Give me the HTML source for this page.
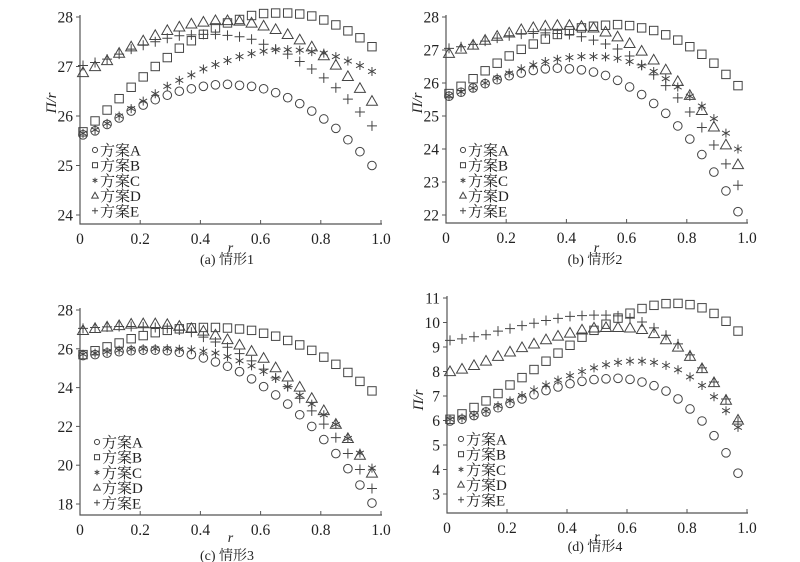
<!DOCTYPE html>
<html><head><meta charset="utf-8">
<style>
html,body{margin:0;padding:0;background:#fff;}
svg{display:block;font-family:"Liberation Serif","Noto Serif CJK SC",serif;}
</style></head>
<body>
<svg id="fig" width="800" height="562" viewBox="0 0 800 562" xmlns="http://www.w3.org/2000/svg"></svg>
<script>
const rValues = [0.01,0.05,0.09,0.13,0.17,0.21,0.25,0.29,0.33,0.37,0.41,0.45,0.49,0.53,0.57,0.61,0.65,0.69,0.73,0.77,0.81,0.85,0.89,0.93,0.97];
const seriesNames = ["方案A","方案B","方案C","方案D","方案E"];
const xTicks = [0,0.2,0.4,0.6,0.8,1.0];
const xTickLabels = ["0","0.2","0.4","0.6","0.8","1.0"];
const aA=[25.62,25.7,25.83,25.96,26.1,26.22,26.33,26.42,26.5,26.55,26.6,26.63,26.64,26.62,26.6,26.55,26.47,26.37,26.25,26.1,25.94,25.75,25.52,25.28,25.0];
const aB=[25.68,25.9,26.12,26.35,26.58,26.79,27.0,27.18,27.37,27.52,27.65,27.78,27.88,27.95,28.03,28.07,28.08,28.08,28.06,28.02,27.94,27.84,27.72,27.58,27.4];
const aC=[25.65,25.72,25.85,26.0,26.15,26.3,26.45,26.6,26.72,26.83,26.95,27.04,27.12,27.2,27.26,27.31,27.34,27.34,27.33,27.3,27.27,27.2,27.11,27.02,26.9];
const aD=[26.88,27.0,27.12,27.27,27.4,27.52,27.63,27.73,27.8,27.86,27.9,27.93,27.93,27.92,27.88,27.82,27.75,27.65,27.54,27.4,27.22,27.03,26.8,26.56,26.3];
const aE=[27.02,27.08,27.15,27.25,27.35,27.43,27.5,27.57,27.62,27.64,27.65,27.65,27.63,27.6,27.55,27.45,27.35,27.25,27.1,26.95,26.77,26.57,26.34,26.08,25.8];
const bA=[25.6,25.72,25.85,25.98,26.1,26.22,26.3,26.38,26.43,26.45,26.43,26.4,26.33,26.23,26.08,25.88,25.65,25.38,25.08,24.7,24.3,23.83,23.3,22.73,22.1];
const bB=[25.68,25.9,26.13,26.37,26.6,26.82,27.02,27.18,27.33,27.47,27.58,27.67,27.72,27.75,27.77,27.74,27.67,27.59,27.46,27.3,27.1,26.87,26.6,26.26,25.92];
const bC=[25.62,25.73,25.85,26.0,26.15,26.3,26.43,26.55,26.65,26.72,26.77,26.8,26.8,26.79,26.75,26.65,26.52,26.35,26.13,25.88,25.6,25.3,24.92,24.48,24.0];
const bD=[26.9,27.03,27.15,27.3,27.42,27.52,27.62,27.68,27.73,27.75,27.75,27.72,27.67,27.55,27.4,27.2,26.97,26.7,26.4,26.05,25.63,25.17,24.67,24.13,23.53];
const bE=[27.05,27.1,27.17,27.27,27.36,27.43,27.48,27.5,27.52,27.5,27.47,27.4,27.3,27.18,27.03,26.82,26.55,26.25,25.92,25.55,25.12,24.65,24.12,23.55,22.9];
const cA=[25.65,25.7,25.78,25.85,25.9,25.93,25.93,25.9,25.82,25.7,25.53,25.32,25.1,24.82,24.45,24.05,23.62,23.15,22.6,22.0,21.32,20.6,19.82,18.98,18.05];
const cB=[25.7,25.9,26.1,26.3,26.52,26.68,26.83,26.95,27.03,27.08,27.1,27.1,27.07,27.02,26.95,26.8,26.65,26.43,26.2,25.92,25.57,25.2,24.78,24.32,23.83];
const cC=[25.72,25.78,25.85,25.93,25.98,26.0,26.0,26.0,25.98,25.95,25.88,25.78,25.6,25.38,25.12,24.83,24.48,24.05,23.6,23.15,22.6,22.1,21.38,20.62,19.85];
const cD=[26.95,27.05,27.13,27.2,27.28,27.3,27.3,27.26,27.17,27.05,26.92,26.72,26.48,26.2,25.88,25.52,25.03,24.55,24.03,23.45,22.82,22.12,21.38,20.52,19.6];
const cE=[27.05,27.1,27.13,27.15,27.15,27.13,27.1,27.05,26.97,26.85,26.6,26.35,26.08,25.75,25.38,24.95,24.5,24.05,23.45,22.8,22.12,21.42,20.6,19.78,18.8];
const dA=[5.98,6.05,6.2,6.35,6.52,6.7,6.88,7.05,7.22,7.37,7.5,7.6,7.67,7.7,7.72,7.68,7.57,7.42,7.2,6.88,6.47,5.98,5.38,4.68,3.85];
const dB=[6.05,6.27,6.53,6.8,7.1,7.45,7.75,8.08,8.42,8.75,9.07,9.4,9.68,9.93,10.18,10.38,10.57,10.7,10.77,10.78,10.73,10.6,10.37,10.05,9.65];
const dC=[6.05,6.1,6.22,6.38,6.6,6.8,7.02,7.25,7.45,7.65,7.83,8.0,8.15,8.28,8.37,8.42,8.42,8.37,8.25,8.07,7.78,7.43,6.97,6.4,5.72];
const dD=[8.0,8.1,8.25,8.43,8.62,8.8,8.98,9.13,9.3,9.45,9.57,9.7,9.78,9.8,9.8,9.78,9.72,9.55,9.3,9.0,8.62,8.12,7.55,6.83,6.02];
const dE=[9.27,9.33,9.42,9.5,9.65,9.75,9.87,9.97,10.08,10.17,10.25,10.28,10.3,10.3,10.27,10.18,10.02,9.78,9.48,9.13,8.68,8.15,7.57,6.88,5.95];
const yTicksA=[24,25,26,27,28];
const yTicksB=[22,23,24,25,26,27,28];
const yTicksC=[18,20,22,24,26,28];
const yTicksD=[3,4,5,6,7,8,9,10,11];

const NS="http://www.w3.org/2000/svg";
const svg=document.getElementById('fig');
const COL="#444";
function mk(tag,attrs,parent){const e=document.createElementNS(NS,tag);for(const k in attrs)e.setAttribute(k,attrs[k]);(parent||svg).appendChild(e);return e;}

function marker(g,type,cx,cy,s){
  let e;
  if(type===0){e=mk('circle',{cx:cx,cy:cy,r:4.3*s,fill:'none',stroke:COL,'stroke-width':1},g);}
  else if(type===1){const h=4.2*s;e=mk('rect',{x:cx-h,y:cy-h,width:2*h,height:2*h,fill:'none',stroke:COL,'stroke-width':1},g);}
  else if(type===2){const h=4.5*s;e=mk('path',{d:`M${cx} ${cy-h}V${cy+h}M${cx-h*0.87} ${cy-h*0.5}L${cx+h*0.87} ${cy+h*0.5}M${cx-h*0.87} ${cy+h*0.5}L${cx+h*0.87} ${cy-h*0.5}`,stroke:COL,'stroke-width':1,fill:'none'},g);}
  else if(type===3){const h=5.5*s;e=mk('path',{d:`M${cx} ${cy-h}L${cx+h} ${cy+h*0.75}L${cx-h} ${cy+h*0.75}Z`,fill:'none',stroke:COL,'stroke-width':1},g);}
  else {const h=5*s;e=mk('path',{d:`M${cx} ${cy-h}V${cy+h}M${cx-h} ${cy}H${cx+h}`,stroke:COL,'stroke-width':1,fill:'none'},g);}
  return e;
}

function panel(cfg){
  const g=mk('g',{});
  
  
  const xs=v=>cfg.x0+(cfg.x1-cfg.x0)*v;
  const ys=v=>cfg.yTop+(cfg.yBot-cfg.yTop)*(cfg.ymax-v)/(cfg.ymax-cfg.ymin);
  const ax=mk('path',{d:`M${cfg.x0} ${cfg.yTop-2}V${cfg.axisY}H${cfg.x1+1}`,stroke:'#555','stroke-width':1.2,fill:'none'},g);
  
  
  cfg.yTicks.forEach(t=>{
    const y=ys(t);
    mk('line',{x1:cfg.x0-4,x2:cfg.x0,y1:y,y2:y,stroke:'#555'},g);
    const tx=mk('text',{x:cfg.x0-7,y:y+5.5,'text-anchor':'end','font-size':15.5,fill:'#222'},g);
    tx.textContent=t;
    
    
  });
  xTicks.forEach((t,i)=>{
    const x=xs(t);
    mk('line',{x1:x,x2:x,y1:cfg.axisY,y2:cfg.axisY-4,stroke:'#555'},g);
    const tx=mk('text',{x:x,y:cfg.axisY+20,'text-anchor':'middle','font-size':15.5,fill:'#222'},g);
    tx.textContent=xTickLabels[i];
    
    
  });
  const xl=mk('text',{x:(cfg.x0+cfg.x1)/2,y:cfg.rY,'text-anchor':'middle','font-size':14,'font-style':'italic',fill:'#222'},g);
  xl.textContent='r';
  
  
  if(cfg.yLabelY){
    const yl=mk('text',{x:0,y:0,transform:`translate(${cfg.x0-24},${cfg.yLabelY}) rotate(-90)`,'text-anchor':'middle','font-size':15,'font-style':'italic',fill:'#222'},g);
    yl.textContent='Π/r';
    
    
  }
  const cap=mk('text',{x:cfg.capX,y:cfg.capY,'text-anchor':'middle','font-size':14,fill:'#222'},g);
  cap.textContent=cfg.caption;
  
  
  cfg.series.forEach((arr,si)=>{
    const sg=mk('g',{},g);
    
    
    arr.forEach((v,i)=>{
      const m=marker(sg,si,xs(rValues[i]),ys(v),1);
      
      
    });
  });
  seriesNames.forEach((n,si)=>{
    const lg=mk('g',{},g);
    
    
    const y=cfg.legY+si*15.2;
    marker(lg,si,cfg.legX,y,0.6);
    const t=mk('text',{x:cfg.legX+5,y:y+5.5,'font-size':15,fill:'#222'},lg);
    t.textContent=n;
  });
}

panel({name:'panel-a',x0:80,x1:381,yTop:17,yBot:215,ymin:24,ymax:28,axisY:224,yTicks:yTicksA,series:[aA,aB,aC,aD,aE],rY:252,yLabelY:103,capX:227,capY:264,caption:'(a) 情形1',legX:95,legY:150});
panel({name:'panel-b',x0:446,x1:747,yTop:17,yBot:215,ymin:22,ymax:28,axisY:223,yTicks:yTicksB,series:[bA,bB,bC,bD,bE],rY:252,yLabelY:103,capX:595,capY:264,caption:'(b) 情形2',legX:463,legY:150});
panel({name:'panel-c',x0:80,x1:381,yTop:310,yBot:504,ymin:18,ymax:28,axisY:515,yTicks:yTicksC,series:[cA,cB,cC,cD,cE],rY:542,yLabelY:null,capX:227,capY:560,caption:'(c) 情形3',legX:97,legY:442});
panel({name:'panel-d',x0:447,x1:747,yTop:298,yBot:494,ymin:3,ymax:11,axisY:513,yTicks:yTicksD,series:[dA,dB,dC,dD,dE],rY:541,yLabelY:400,capX:595,capY:551,caption:'(d) 情形4',legX:461,legY:439});
</script>
</body></html>
